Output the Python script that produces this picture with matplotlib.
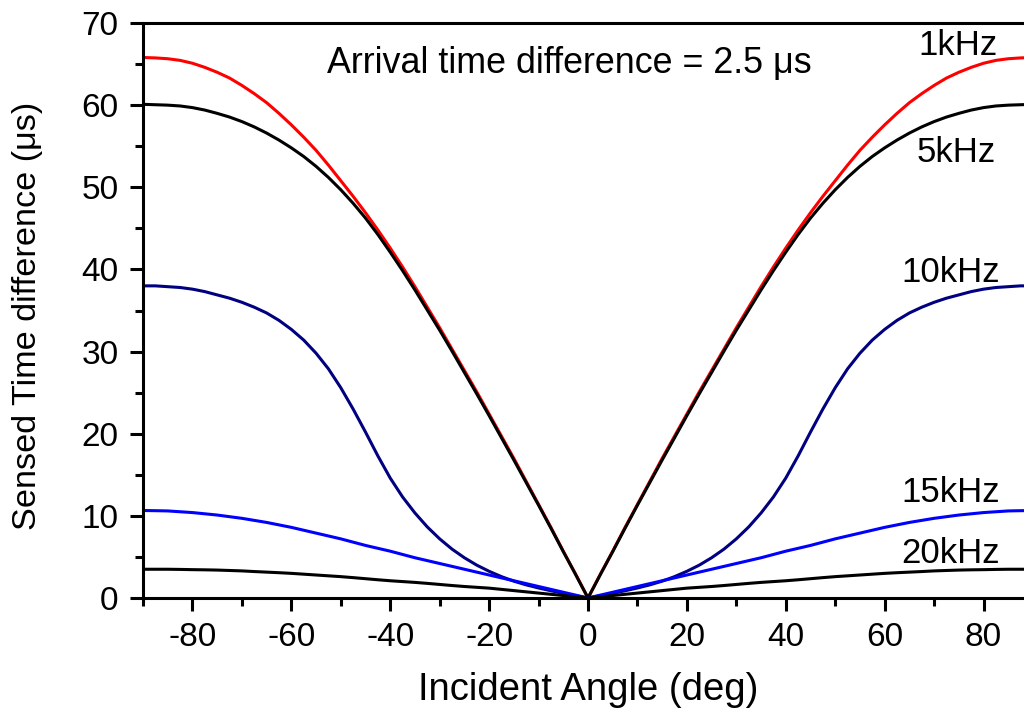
import numpy as np
import matplotlib
matplotlib.use("Agg")
import matplotlib.pyplot as plt
import matplotlib.ticker as mtk

plt.rcParams['font.family'] = ['Liberation Sans', 'DejaVu Sans']
plt.rcParams['axes.unicode_minus'] = False

# angle grid (positive half, curves are symmetric about 0)
ang_half = [0, 2.5, 5, 7.5, 10, 12.5, 15, 17.5, 20, 22.5, 25, 27.5, 30, 32.5, 35, 37.5,
            40, 42.5, 45, 47.5, 50, 52.5, 55, 57.5, 60, 62.5, 65, 67.5, 70, 72.5, 75,
            77.5, 80, 82.5, 85, 87.5, 90]

f1k = [0, 2.9, 5.7, 8.6, 11.4, 14.2, 17.0, 19.7, 22.4, 25.1, 27.7, 30.3, 32.9, 35.4, 37.9, 40.3,
       42.6, 44.8, 46.9, 48.9, 50.8, 52.7, 54.5, 56.1, 57.6, 59.0, 60.3, 61.4, 62.4, 63.3, 64.0,
       64.6, 65.1, 65.45, 65.65, 65.75, 65.8]
f5k = [0, 2.85, 5.65, 8.5, 11.3, 14.05, 16.8, 19.5, 22.2, 24.85, 27.45, 30.05, 32.6, 35.05, 37.5, 39.85,
       42.1, 44.25, 46.25, 48.05, 49.7, 51.2, 52.55, 53.75, 54.8, 55.75, 56.6, 57.35, 58.0, 58.55, 59.0,
       59.4, 59.7, 59.9, 60.0, 60.05, 60.1]
f10k = [0, 0.28, 0.57, 0.88, 1.22, 1.6, 2.05, 2.6, 3.25, 4.0, 4.9, 5.95, 7.2, 8.65, 10.35, 12.3,
        14.6, 17.3, 20.2, 23.0, 25.6, 27.9, 29.8, 31.4, 32.7, 33.8, 34.7, 35.4, 36.0, 36.5, 36.9,
        37.3, 37.6, 37.8, 37.9, 38.0, 38.0]
f15k = [0, 0.35, 0.7, 1.05, 1.4, 1.75, 2.1, 2.45, 2.8, 3.15, 3.5, 3.85, 4.2, 4.55, 4.9, 5.3,
        5.7, 6.05, 6.4, 6.8, 7.2, 7.55, 7.9, 8.25, 8.6, 8.9, 9.2, 9.45, 9.7, 9.9, 10.1,
        10.25, 10.4, 10.5, 10.6, 10.63, 10.65]
f20k = [0, 0.15, 0.3, 0.45, 0.6, 0.75, 0.9, 1.05, 1.2, 1.3, 1.4, 1.52, 1.65, 1.78, 1.9, 2.0,
        2.1, 2.22, 2.35, 2.48, 2.6, 2.7, 2.8, 2.9, 3.0, 3.08, 3.15, 3.22, 3.3, 3.35, 3.4,
        3.43, 3.45, 3.48, 3.5, 3.5, 3.5]

# label, values, colour, label position (deg, baseline value)
series = [("1kHz", f1k, "#ff0000", (74.8, 66.1)),
          ("5kHz", f5k, "#000000", (74.4, 53.1)),
          ("10kHz", f10k, "#000080", (73.3, 38.5)),
          ("15kHz", f15k, "#0000ff", (73.4, 11.7)),
          ("20kHz", f20k, "#000000", (73.4, 4.26))]

def mirror(a):
    a = np.asarray(a, dtype=float)
    return np.concatenate([a[:0:-1], a])

xs = np.concatenate([-np.asarray(ang_half[:0:-1]), ang_half])

fig = plt.figure(figsize=(10.24, 7.11), dpi=100)
ax = fig.add_axes([143/1024, 113/711, 890/1024, 575/711])

for name, vals, col, pos in series:
    ax.plot(xs, mirror(vals), color=col, linewidth=2.2)
    ax.text(pos[0], pos[1], name, fontsize=25, ha="center", va="baseline")

ax.text(-52.8, 63.9, "Arrival time difference = 2.5 \u03bcs", fontsize=25.8,
        ha="left", va="baseline")

ax.set_xlim(-90, 90)
ax.set_ylim(0, 70)
ax.xaxis.set_major_locator(mtk.FixedLocator([-80, -60, -40, -20, 0, 20, 40, 60, 80]))
ax.xaxis.set_minor_locator(mtk.FixedLocator([-90, -70, -50, -30, -10, 10, 30, 50, 70, 90]))
ax.yaxis.set_major_locator(mtk.MultipleLocator(10))
ax.yaxis.set_minor_locator(mtk.MultipleLocator(5))
ax.tick_params(which="major", length=9.5, width=2.2, labelsize=24, pad=8, direction="out")
ax.tick_params(which="minor", length=5.5, width=2.2, direction="out")
ax.tick_params(top=False, right=False)
for s in ax.spines.values():
    s.set_linewidth(2.2)
ax.spines['right'].set_visible(False)

ax.set_xlabel("Incident Angle (deg)", fontsize=27.5, va="center")
ax.xaxis.set_label_coords(0.5, (598 - 690) / 575)
ax.set_ylabel("Sensed Time difference (\u03bcs)", fontsize=24.7, va="center")
ax.yaxis.set_label_coords((28 - 143) / 890, 0.49)

fig.savefig("out.png", dpi=100)
